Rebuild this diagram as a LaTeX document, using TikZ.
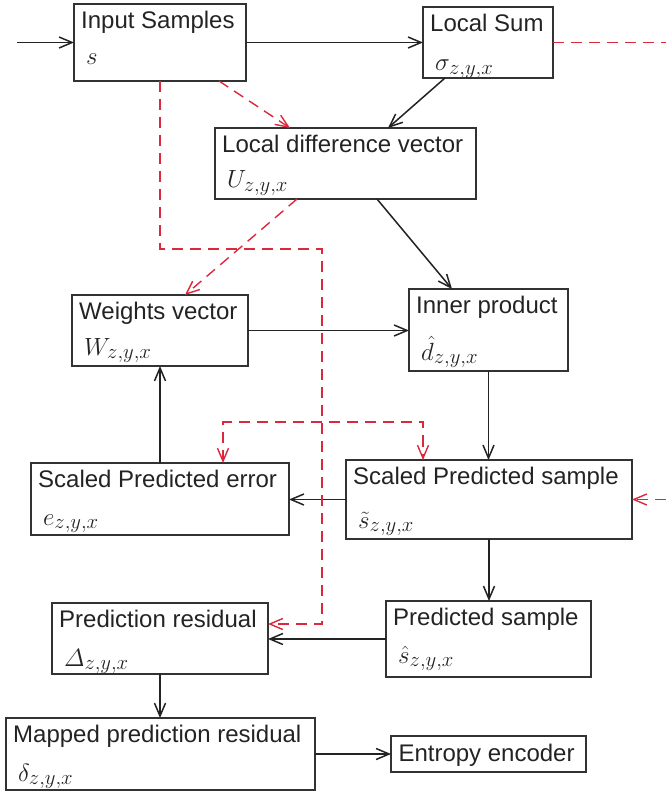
\documentclass[tikz,border=0pt]{standalone}
\usepackage{amsmath}
\usepackage{fontspec}
\setmainfont{Liberation Sans}
\usetikzlibrary{arrows.meta}
\definecolor{ink}{RGB}{35,35,35}
\definecolor{edge}{RGB}{50,50,50}
\definecolor{flowred}{RGB}{220,40,60}

% box with a title line and a symbol line:
% #1 name, #2 x, #3 y (top-left), #4 width, #5 height, #6 title, #7 symbol, #8 symbol baseline offset
\newcommand\stagebox[8]{%
  \node[blk, minimum width=#4pt, minimum height=#5pt] (#1) at (#2,#3) {};
  \node[ttl] (#1-t) at ([shift={(7,24.5)}]#1.north west) {#6};
  \node[sym] (#1-s) at ([shift={(12,#8)}]#1.north west) {$#7$};
}

\begin{document}
\begin{tikzpicture}[x=1pt,y=-1pt,
  >={Straight Barb[length=13pt,width=11pt]},
  blk/.style={draw=edge, line width=1.6pt, inner sep=0pt, outer sep=0pt, anchor=north west},
  ttl/.style={anchor=base west, inner sep=0pt, font=\fontsize{24}{28}\selectfont, text=ink},
  sym/.style={anchor=base west, inner sep=0pt, font=\fontsize{28}{32}\selectfont, text=ink},
  flow/.style={draw=ink, line width=1.5pt, ->},
  feed/.style={draw=flowred, line width=1.4pt, dash pattern=on 11pt off 7pt},
]
\useasboundingbox (0,0) rectangle (666,791);

% processing stages
\stagebox{inp}{74}{4}{172}{77}{Input Samples}{s}{61}
\stagebox{lsum}{423}{7}{130}{71}{Local Sum}{\sigma_{z,y,x}}{64}
\stagebox{ldiff}{215}{128}{261}{71}{Local difference vector}{U_{z,y,x}}{60}
\stagebox{wvec}{72}{295}{176}{71}{Weights vector}{W_{z,y,x}}{60}
\stagebox{inner}{409}{289}{159}{82}{Inner product}{\hat{d}_{z,y,x}}{71}
\stagebox{spe}{31}{463}{258}{72}{Scaled Predicted error}{e_{z,y,x}}{62}
\stagebox{sps}{346}{460}{286}{79}{Scaled Predicted sample}{\tilde{s}_{z,y,x}}{68}
\stagebox{ps}{386}{601}{205}{76}{Predicted sample}{\hat{s}_{z,y,x}}{62}
\stagebox{pr}{52}{603}{216}{71}{Prediction residual}{\varDelta_{z,y,x}}{63}
\stagebox{mpr}{6}{718}{309}{72}{Mapped prediction residual}{\delta_{z,y,x}}{63}
\node[blk, minimum width=195pt, minimum height=36pt] (ent) at (391,736) {};
\node[ttl] (ent-t) at ([shift={(7.3,25.7)}]ent.north west) {Entropy encoder};

% free ends at the picture border
\coordinate (src) at (17,42.5);
\coordinate (outR) at (666,42.5);
\coordinate (inR) at (666,499.5);
\coordinate (j1) at (322,249);
\coordinate (j2) at (322,422);

% main data path
\draw[flow] (src) -- (inp.west);
\draw[flow] (inp.east) -- (lsum.west);
\draw[flow] ([xshift=22pt]lsum.south west) -- ([xshift=173pt]ldiff.north west);
\draw[flow] ([xshift=162pt]ldiff.south west) -- ([xshift=43pt]inner.north west);
\draw[flow] (wvec.east) -- (wvec.east -| inner.west);
\draw[flow] (inner.south) -- (inner.south |- sps.north);
\draw[flow] (sps.west) -- (sps.west -| spe.east);
\draw[flow] (spe.north) -- (wvec.south);
\draw[flow] (sps.south) -- (sps.south |- ps.north);
\draw[flow] (ps.west) -- (ps.west -| pr.east);
\draw[flow] (pr.south) -- (pr.south |- mpr.north);
\draw[flow] (mpr.east) -- (ent.west);

% dashed side paths
\draw[feed] (lsum.east) -- (outR);
\draw[feed, ->] (inR) -- (sps.east);
\draw[feed, ->] ([xshift=145pt]inp.south west) -- ([xshift=75pt]ldiff.north west);
\draw[feed, ->] ([xshift=82pt]ldiff.south west) -- ([xshift=113pt]wvec.north west);
\draw[feed, ->] ([xshift=86pt]inp.south west) |- (j1) |- ([yshift=14.5pt]pr.east);
\draw[feed, <->] ([xshift=192pt]spe.north west) |- (j2) -| ([xshift=77pt]sps.north west);
\end{tikzpicture}
\end{document}
